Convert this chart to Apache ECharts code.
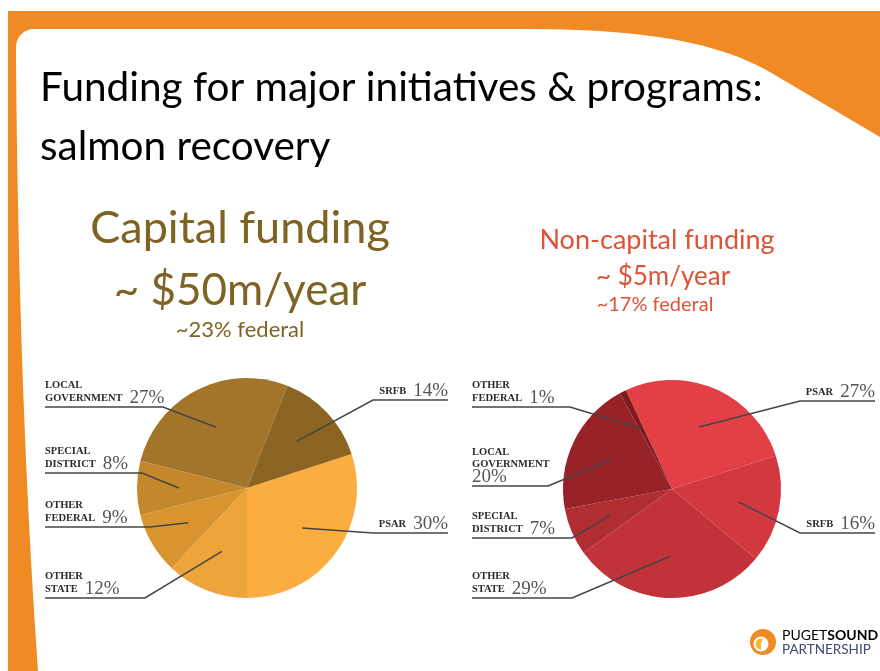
<!DOCTYPE html>
<html><head><meta charset="utf-8">
<script src="https://cdn.jsdelivr.net/npm/echarts@6/dist/echarts.min.js"></script>
<style>html,body{margin:0;padding:0;background:#fff}#c{width:880px;height:671px}</style>
</head><body><div id="c"></div>
<script>
// ---------- data ----------
const capitalCategories = ['PSAR', 'Other State', 'Other Federal', 'Special District', 'Local Government', 'SRFB'];
const capitalValues = [30, 12, 9, 8, 27, 14];
const nonCapitalCategories = ['PSAR', 'SRFB', 'Other State', 'Special District', 'Local Government', 'Other Federal'];
const nonCapitalValues = [27, 16, 29, 7, 20, 1];
const capitalHeading = ['Capital funding', '~ $50m/year', '~23% federal'];
const nonCapitalHeading = ['Non-capital funding', '~ $5m/year', '~17% federal'];
const titleLines = ['Funding for major initiatives & programs:', 'salmon recovery'];

// ---------- styles / layout ----------
const capitalColors = ['#FCAD40', '#EDA43B', '#D8952F', '#C4872C', '#A3752A', '#8A6420'];
const nonCapitalColors = ['#E23F46', '#D1393F', '#C23339', '#B02D32', '#962227', '#7F1B1F'];
const capitalLabelPlace = [
  {side: 'right', x: 448, y: 533, knee: 373},
  {side: 'left', x: 45, y: 598, knee: 145},
  {side: 'left', x: 45, y: 527, knee: 150},
  {side: 'left', x: 45, y: 473, knee: 142},
  {side: 'left', x: 45, y: 407, knee: 163},
  {side: 'right', x: 448, y: 400, knee: 373}
];
const nonCapitalLabelPlace = [
  {side: 'right', x: 875, y: 401, knee: 800},
  {side: 'right', x: 875, y: 533, knee: 800},
  {side: 'left', x: 472, y: 598, knee: 572},
  {side: 'left', x: 472, y: 538, knee: 572},
  {side: 'left', x: 472, y: 486, knee: 548},
  {side: 'left', x: 472, y: 407, knee: 570}
];

// decorative slide frame outline (sampled curves)
function bez(p0, p1, p2, p3, n) {
  const out = [];
  for (let i = 0; i <= n; i++) {
    const t = i / n, u = 1 - t;
    out.push([u*u*u*p0[0] + 3*u*u*t*p1[0] + 3*u*t*t*p2[0] + t*t*t*p3[0],
              u*u*u*p0[1] + 3*u*u*t*p1[1] + 3*u*t*t*p2[1] + t*t*t*p3[1]]);
  }
  return out;
}
const framePts = [].concat(
  bez([16, 47], [16, 37], [24, 29], [34, 29], 8),
  bez([520, 29], [640, 29], [720, 40], [780, 78], 24),
  [[880, 137], [880, 671], [38, 671]],
  bez([38, 671], [26, 500], [18, 300], [16, 60], 20)
);

function pieBase(cats, vals, colors, center, radius, startAngle) {
  return {
    type: 'pie', center: center, radius: radius, startAngle: startAngle, clockwise: true,
    avoidLabelOverlap: false, silent: true, animation: false, z: 2,
    itemStyle: {borderWidth: 0},
    emphasis: {disabled: true},
    data: vals.map((v, i) => ({value: v, name: cats[i], itemStyle: {color: colors[i]}})),
    label: {show: false}, labelLine: {show: false}
  };
}

// transparent overlay pie carrying labels + leader lines so the lines draw over the slices
function pieLabels(cats, vals, center, radius, startAngle, place, pctOwnLine) {
  const total = vals.reduce((a, b) => a + b, 0);
  return {
    type: 'pie', center: center, radius: radius, startAngle: startAngle, clockwise: true,
    avoidLabelOverlap: false, silent: true, animation: false, z: 5,
    itemStyle: {borderWidth: 0, color: 'rgba(0,0,0,0)'},
    emphasis: {disabled: true},
    data: vals.map((v, i) => ({value: v, name: cats[i]})),
    label: {
      show: true, position: 'outside', width: 170, overflow: 'none',
      fontFamily: 'Liberation Serif', fontSize: 10,
      formatter: function (p) {
        const w = p.name.toUpperCase().split(' ');
        if (w.length === 1) return '{n|' + w[0] + '}{p|' + p.value + '%}';
        const own = pctOwnLine.indexOf(p.name) >= 0;
        return '{n|' + w[0] + '}\n{n|' + w[1] + '}' + (own ? '\n{q|' : '{p|') + p.value + '%}';
      },
      rich: {
        n: {fontFamily: 'Liberation Serif', fontWeight: 'bold', fontSize: 10.5, color: '#2b2b2b', lineHeight: 12},
        p: {fontFamily: 'Liberation Serif', fontSize: 19, color: '#555', lineHeight: 14, padding: [0, 0, 0, 7]},
        q: {fontFamily: 'Liberation Serif', fontSize: 19, color: '#555', lineHeight: 14}
      }
    },
    labelLine: {show: true, length: 4, length2: 4, smooth: false, lineStyle: {color: '#454545', width: 1.5}},
    labelLayout: function (params) {
      const i = params.dataIndex;
      const L = place[i];
      let cum = 0;
      for (let k = 0; k < i; k++) cum += vals[k];
      const mid = (startAngle - (cum + vals[i] / 2) / total * 360) * Math.PI / 180;
      const kr = 0.62 * radius;
      const inner = [center[0] + kr * Math.cos(mid), center[1] - kr * Math.sin(mid)];
      return {
        x: L.x, y: L.y - 2,
        align: L.side === 'left' ? 'left' : 'right',
        verticalAlign: 'bottom',
        labelLinePoints: [inner, [L.knee, L.y], [L.x, L.y]]
      };
    }
  };
}

const chart = echarts.init(document.getElementById('c'), null, {renderer: 'canvas'});
const logoColor = '#3C4B6E';
function txt(x, y, s, size, color, align) {
  return {type: 'text', silent: true, x: x, y: y,
    style: {text: s, fontFamily: 'Lato', fontSize: size, fill: color, align: align || 'left', verticalAlign: 'bottom'}};
}
const capC = [247, 488], nonC = [672, 489];
chart.setOption({
  backgroundColor: '#fff',
  animation: false,
  graphic: [
    {type: 'rect', silent: true, z: -10, shape: {x: 8, y: 11, width: 872, height: 660}, style: {fill: '#F08A24'}},
    {type: 'polygon', silent: true, z: -9, shape: {points: framePts}, style: {fill: '#fff'}},
    txt(40, 108, titleLines[0], 40.5, '#000'),
    txt(40, 167, titleLines[1], 40.5, '#000'),
    txt(240, 251, capitalHeading[0], 45, '#7F6322', 'center'),
    txt(240, 313, capitalHeading[1], 44, '#7F6322', 'center'),
    txt(240, 341, capitalHeading[2], 22, '#7F6322', 'center'),
    txt(657, 254, nonCapitalHeading[0], 27, '#DF5236', 'center'),
    txt(663, 290, nonCapitalHeading[1], 26, '#DF5236', 'center'),
    txt(655, 315, nonCapitalHeading[2], 20, '#DF5236', 'center'),
    // logo
    {type: 'circle', silent: true, shape: {cx: 763, cy: 642, r: 13}, style: {fill: '#F08A24'}},
    {type: 'circle', silent: true, shape: {cx: 761, cy: 644, r: 7.5}, style: {fill: '#fff'}},
    {type: 'sector', silent: true, shape: {cx: 761, cy: 644, r: 5.5, startAngle: Math.PI * 0.5, endAngle: Math.PI * 1.6}, style: {fill: '#F7B733'}},
    {type: 'text', silent: true, x: 782, y: 642, style: {text: '{l|PUGET}{b|SOUND}', verticalAlign: 'bottom',
      rich: {l: {fontSize: 14, fontFamily: 'Lato', color: logoColor},
             b: {fontSize: 14, fontFamily: 'Lato', fontWeight: 'bold', color: logoColor}}}},
    {type: 'text', silent: true, x: 782, y: 657, style: {text: 'PARTNERSHIP', fontFamily: 'Lato', fontSize: 13.5, fill: logoColor, verticalAlign: 'bottom'}}
  ],
  series: [
    pieBase(capitalCategories, capitalValues, capitalColors, capC, 110, 18),
    pieBase(nonCapitalCategories, nonCapitalValues, nonCapitalColors, nonC, 109, 115),
    pieLabels(capitalCategories, capitalValues, capC, 110, 18, capitalLabelPlace, []),
    pieLabels(nonCapitalCategories, nonCapitalValues, nonC, 109, 115, nonCapitalLabelPlace, ['Local Government'])
  ]
});
</script>
</body></html>
